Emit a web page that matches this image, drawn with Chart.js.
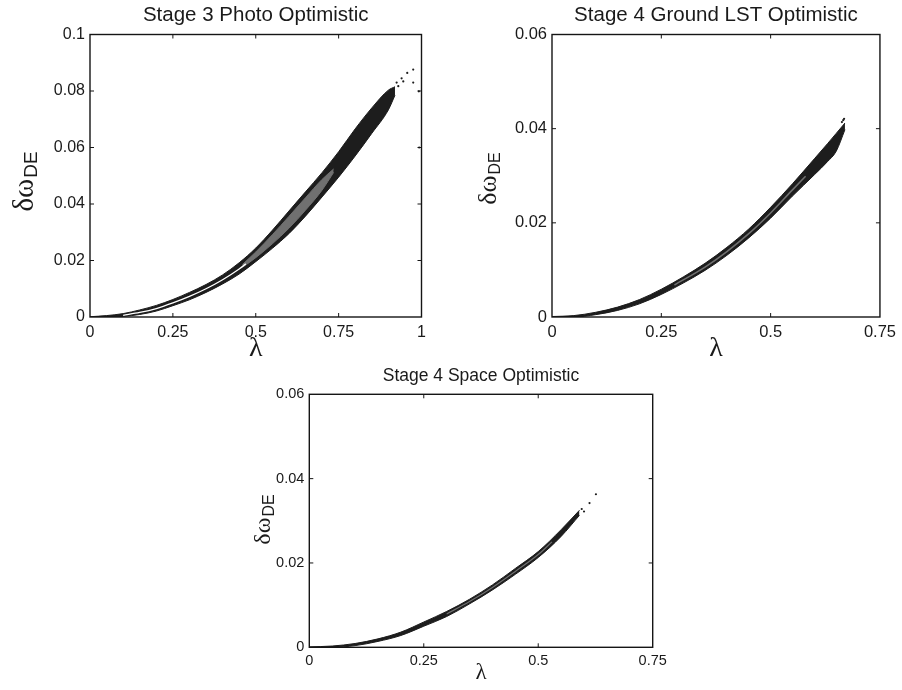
<!DOCTYPE html>
<html><head><meta charset="utf-8">
<script src="https://cdn.jsdelivr.net/npm/chart.js@4.4.1/dist/chart.umd.min.js"></script>
<style>
html,body{margin:0;padding:0;background:#fff;}
#wrap{position:relative;width:902px;height:690px;overflow:hidden;background:#fff;}
canvas{position:absolute;}
</style></head><body>
<div id="wrap">
<canvas id="c1" width="451" height="370" style="left:0px;top:0px;width:451px;height:370px"></canvas>
<canvas id="c2" width="451" height="370" style="left:451px;top:0px;width:451px;height:370px"></canvas>
<canvas id="c3" width="450" height="335" style="left:230px;top:355px;width:450px;height:335px"></canvas>
</div>
<script>
// ---------- titles & ticks ----------
const titles = ['Stage 3 Photo Optimistic', 'Stage 4 Ground LST Optimistic', 'Stage 4 Space Optimistic'];
const xLabel = 'λ';
const yLabelMain = 'δω';
const yLabelSub = 'DE';
const xTicksA = [0, 0.25, 0.5, 0.75, 1];
const xTickLabelsA = ['0', '0.25', '0.5', '0.75', '1'];
const yTicksA = [0, 0.02, 0.04, 0.06, 0.08, 0.1];
const yTickLabelsA = ['0', '0.02', '0.04', '0.06', '0.08', '0.1'];
const xTicksB = [0, 0.25, 0.5, 0.75];
const xTickLabelsB = ['0', '0.25', '0.5', '0.75'];
const yTicksB = [0, 0.02, 0.04, 0.06];
const yTickLabelsB = ['0', '0.02', '0.04', '0.06'];

// ---------- panel 1 : Stage 3 Photo ----------
const lam1   = [0, 0.05, 0.1, 0.15, 0.2, 0.25, 0.3, 0.35, 0.4, 0.45, 0.5, 0.55, 0.6, 0.65, 0.7, 0.75, 0.8, 0.85, 0.9, 0.92];
const outUp1 = [0.0001, 0.0005, 0.0012, 0.0025, 0.0041, 0.0062, 0.0087, 0.0115, 0.0149, 0.0192, 0.0244, 0.0307, 0.0375, 0.0443, 0.0511, 0.0585, 0.0666, 0.0740, 0.0803, 0.0815];
const outLo1 = [0, 0, 0.0002, 0.0009, 0.0021, 0.0040, 0.0061, 0.0087, 0.0117, 0.0152, 0.0196, 0.0243, 0.0295, 0.0357, 0.0425, 0.0495, 0.0570, 0.0650, 0.0733, 0.0785];
const lamIn1 = [0.46, 0.5, 0.55, 0.6, 0.65, 0.7, 0.735];
const inUp1  = [0.0186, 0.0230, 0.0291, 0.0356, 0.0422, 0.0487, 0.0524];
const inLo1  = [0.0176, 0.0210, 0.0259, 0.0314, 0.0378, 0.0449, 0.0512];
const lamGap1 = [0.1, 0.15, 0.2, 0.25, 0.3, 0.35, 0.4, 0.45, 0.47];
const gap1    = [0.0006, 0.0016, 0.0030, 0.0050, 0.0073, 0.0100, 0.0132, 0.0170, 0.0188];
const spkX1 = [0.91, 0.93, 0.945, 0.957, 0.975, 0.975, 0.992, 0.993, 0.925, 0.94];
const spkY1 = [0.0770, 0.0817, 0.0834, 0.0864, 0.0876, 0.0830, 0.0799, 0.0600, 0.0830, 0.0845];

// ---------- panel 2 : Stage 4 Ground LST ----------
const lam2   = [0, 0.05, 0.1, 0.15, 0.2, 0.25, 0.3, 0.35, 0.4, 0.45, 0.5, 0.55, 0.6, 0.63, 0.65, 0.67];
const outUp2 = [0.0001, 0.0003, 0.0010, 0.0021, 0.0037, 0.0059, 0.0085, 0.0114, 0.0148, 0.0187, 0.0233, 0.0283, 0.0336, 0.0368, 0.0390, 0.0412];
const outLo2 = [0, 0, 0.0005, 0.0014, 0.0028, 0.0048, 0.0072, 0.0099, 0.0131, 0.0168, 0.0210, 0.0257, 0.0302, 0.0330, 0.0352, 0.0398];
const lamIn2 = [0.28, 0.35, 0.4, 0.45, 0.5, 0.55, 0.58];
const in2    = [0.0068, 0.0106, 0.0139, 0.0177, 0.0221, 0.0270, 0.0299];
const spkX2 = [0.663, 0.666, 0.668];
const spkY2 = [0.0414, 0.0418, 0.0421];

// ---------- panel 3 : Stage 4 Space ----------
const lam3   = [0, 0.05, 0.1, 0.15, 0.2, 0.25, 0.3, 0.35, 0.4, 0.45, 0.5, 0.55, 0.59];
const outUp3 = [0.0001, 0.0003, 0.0009, 0.0020, 0.0036, 0.0060, 0.0085, 0.0114, 0.0148, 0.0187, 0.0227, 0.0279, 0.0325];
const outLo3 = [0, 0, 0.0004, 0.0014, 0.0028, 0.0050, 0.0073, 0.0103, 0.0136, 0.0173, 0.0213, 0.0263, 0.0313];
const lamIn3 = [0.3, 0.35, 0.4, 0.45, 0.5, 0.53];
const in3    = [0.0079, 0.01085, 0.0142, 0.0180, 0.0220, 0.0250];
const spkX3 = [0.595, 0.600, 0.612, 0.626];
const spkY3 = [0.0328, 0.0322, 0.0342, 0.0363];

const DARK = '#1d1d1d', GRAY = '#707070', TXT = '#1a1a1a';
const zip = (xs, ys) => xs.map((x, i) => ({x: x, y: ys[i]}));

const framePlugin = {
  id: 'frame',
  afterDatasetsDraw(chart, args, o) {
    const {ctx, chartArea: a, scales: {x, y}} = chart;
    ctx.save();
    ctx.strokeStyle = '#151515';
    ctx.lineWidth = 1.4;
    ctx.strokeRect(a.left, a.top, a.right - a.left, a.bottom - a.top);
    ctx.lineWidth = 1;
    const L = 4;
    ctx.beginPath();
    x.ticks.forEach(t => {
      const p = x.getPixelForValue(t.value);
      if (p <= a.left + 1 || p >= a.right - 1) return;
      ctx.moveTo(p, a.bottom); ctx.lineTo(p, a.bottom - L);
      ctx.moveTo(p, a.top); ctx.lineTo(p, a.top + L);
    });
    y.ticks.forEach(t => {
      const p = y.getPixelForValue(t.value);
      if (p <= a.top + 1 || p >= a.bottom - 1) return;
      ctx.moveTo(a.left, p); ctx.lineTo(a.left + L, p);
      ctx.moveTo(a.right, p); ctx.lineTo(a.right - L, p);
    });
    ctx.stroke();
    // y axis label with subscript
    ctx.translate(o.bx, o.cy);
    ctx.rotate(-Math.PI / 2);
    ctx.fillStyle = TXT;
    ctx.textBaseline = 'alphabetic';
    ctx.textAlign = 'left';
    const fMain = o.big + 'px "Liberation Serif", serif';
    const fSub = o.small + 'px "Liberation Sans", Arial, sans-serif';
    ctx.font = fMain; const w1 = ctx.measureText(yLabelMain).width;
    ctx.font = fSub; const w2 = ctx.measureText(yLabelSub).width;
    const s = -(w1 + w2) / 2;
    ctx.font = fMain; ctx.fillText(yLabelMain, s, 0);
    ctx.font = fSub; ctx.fillText(yLabelSub, s + w1 + 1, o.sub);
    ctx.restore();
  }
};

function makeChart(id, cfg) {
  const datasets = [
    {type: 'line', data: zip(cfg.lam, cfg.up), borderColor: DARK, backgroundColor: DARK, borderWidth: 1, fill: '+1', pointRadius: 0, cubicInterpolationMode: 'monotone', order: 3},
    {type: 'line', data: zip(cfg.lam, cfg.lo), borderColor: DARK, backgroundColor: DARK, borderWidth: 1, fill: false, pointRadius: 0, cubicInterpolationMode: 'monotone', order: 3}
  ];
  if (cfg.inLo) {
    datasets.push({type: 'line', data: zip(cfg.lamIn, cfg.inUp), borderColor: GRAY, backgroundColor: GRAY, borderWidth: 1, fill: '+1', pointRadius: 0, cubicInterpolationMode: 'monotone', order: 2});
    datasets.push({type: 'line', data: zip(cfg.lamIn, cfg.inLo), borderColor: GRAY, backgroundColor: GRAY, borderWidth: 1, fill: false, pointRadius: 0, cubicInterpolationMode: 'monotone', order: 2});
  } else {
    datasets.push({type: 'line', data: zip(cfg.lamIn, cfg.inUp), borderColor: GRAY, borderWidth: cfg.inW, fill: false, pointRadius: 0, cubicInterpolationMode: 'monotone', order: 2});
  }
  if (cfg.gapLam) {
    datasets.push({type: 'line', data: zip(cfg.gapLam, cfg.gap), borderColor: '#ffffff', borderWidth: 1.3, fill: false, pointRadius: 0, cubicInterpolationMode: 'monotone', order: 1});
  }
  datasets.push({type: 'scatter', data: zip(cfg.spkX, cfg.spkY), backgroundColor: DARK, borderWidth: 0, pointRadius: 1.1, order: 0});

  const W = cfg.W, H = cfg.H, A = cfg.area;
  return new Chart(document.getElementById(id), {
    type: 'scatter',
    data: {datasets: datasets},
    options: {
      responsive: false, animation: false, devicePixelRatio: 1,
      layout: {padding: {left: 0, top: 0, right: W - A.r, bottom: 0}},
      plugins: {
        legend: {display: false}, tooltip: {enabled: false},
        title: {display: true, text: cfg.title, color: TXT, fullSize: false,
          font: {family: '"Liberation Sans", Arial, sans-serif', size: cfg.tf, weight: 'normal', lineHeight: 1.2},
          padding: {top: cfg.tpt, bottom: A.t - cfg.tpt - cfg.tf * 1.2}},
        frame: cfg.ylab
      },
      scales: {
        x: {type: 'linear', min: cfg.xt[0], max: cfg.xt[cfg.xt.length - 1],
          grid: {display: false, drawTicks: false}, border: {display: false},
          afterBuildTicks: s => { s.ticks = cfg.xt.map(v => ({value: v})); },
          afterFit: s => { s.height = H - A.b; },
          ticks: {color: TXT, padding: cfg.xpad, maxRotation: 0, font: {family: '"Liberation Sans", Arial, sans-serif', size: cfg.kf},
            callback: (v, i) => cfg.xl[i]},
          title: {display: true, text: xLabel, color: TXT, font: {family: '"Liberation Serif", serif', size: cfg.lf, lineHeight: 1.2},
            padding: {top: 0, bottom: cfg.lpb}}
        },
        y: {type: 'linear', min: cfg.yt[0], max: cfg.yt[cfg.yt.length - 1],
          grid: {display: false, drawTicks: false}, border: {display: false},
          afterBuildTicks: s => { s.ticks = cfg.yt.map(v => ({value: v})); },
          afterFit: s => { s.width = A.l; },
          ticks: {color: TXT, padding: 5, font: {family: '"Liberation Sans", Arial, sans-serif', size: cfg.kf},
            callback: (v, i) => cfg.yl[i]}
        }
      }
    },
    plugins: [framePlugin]
  });
}

makeChart('c1', {W: 451, H: 370, area: {l: 90, r: 421.5, t: 34.5, b: 317},
  title: titles[0], tf: 20.5, tpt: 3, kf: 16, lf: 28, lpb: 5, xpad: 6,
  xt: xTicksA, xl: xTickLabelsA, yt: yTicksA, yl: yTickLabelsA,
  lam: lam1, up: outUp1, lo: outLo1, lamIn: lamIn1, inUp: inUp1, inLo: inLo1,
  gapLam: lamGap1, gap: gap1, spkX: spkX1, spkY: spkY1,
  ylab: {bx: 33, cy: 182, big: 29, small: 19, sub: 4}});

makeChart('c2', {W: 451, H: 370, area: {l: 101, r: 433, t: 34.5, b: 317},
  title: titles[1], tf: 20.5, tpt: 3, kf: 16.5, lf: 28, lpb: 5, xpad: 6,
  xt: xTicksB, xl: xTickLabelsB, yt: yTicksB, yl: yTickLabelsB,
  lam: lam2, up: outUp2, lo: outLo2, lamIn: lamIn2, inUp: in2, inW: 1.6,
  spkX: spkX2, spkY: spkY2,
  ylab: {bx: 45, cy: 179, big: 26, small: 16, sub: 4}});

makeChart('c3', {W: 450, H: 335, area: {l: 79.3, r: 422.7, t: 39.3, b: 292.3},
  title: titles[2], tf: 17.5, tpt: 11, kf: 14.5, lf: 23, lpb: 3, xpad: 5,
  xt: xTicksB, xl: xTickLabelsB, yt: yTicksB, yl: yTickLabelsB,
  lam: lam3, up: outUp3, lo: outLo3, lamIn: lamIn3, inUp: in3, inW: 1.2,
  spkX: spkX3, spkY: spkY3,
  ylab: {bx: 40, cy: 165, big: 24, small: 16, sub: 4}});
</script>
</body></html>
